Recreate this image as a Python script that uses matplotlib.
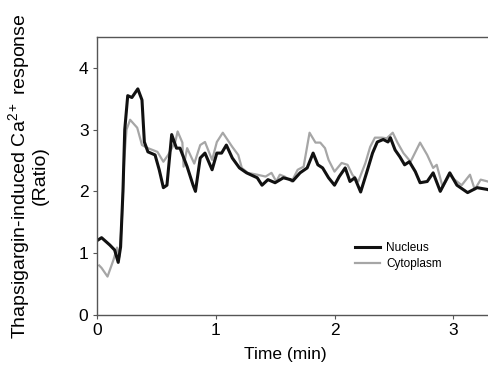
import numpy as np
import matplotlib.pyplot as plt

plt.rcParams['font.family'] = ['Liberation Sans', 'DejaVu Sans']
plt.rcParams['mathtext.fontset'] = 'custom'
plt.rcParams['mathtext.rm'] = 'Liberation Sans'
plt.rcParams['mathtext.it'] = 'Liberation Sans'

# Nucleus trace (time in min, ratio)
nuc_t = [0.0, 0.04, 0.11, 0.15, 0.18, 0.2, 0.22, 0.235, 0.26, 0.295, 0.345, 0.38,
         0.40, 0.43, 0.49, 0.525, 0.56, 0.59, 0.63, 0.67, 0.70, 0.76, 0.81, 0.83,
         0.87, 0.91, 0.97, 1.01, 1.05, 1.09, 1.14, 1.2, 1.26, 1.35, 1.39, 1.44,
         1.5, 1.57, 1.63, 1.65, 1.71, 1.77, 1.82, 1.86, 1.9, 1.95, 2.0, 2.04,
         2.09, 2.13, 2.17, 2.22, 2.27, 2.32, 2.36, 2.41, 2.45, 2.47, 2.51, 2.55,
         2.59, 2.63, 2.68, 2.72, 2.78, 2.83, 2.89, 2.97, 3.03, 3.12, 3.2, 3.29, 3.3]
nuc_r = [1.2, 1.25, 1.13, 1.05, 0.85, 1.1, 2.0, 3.0, 3.55, 3.52, 3.66, 3.48,
         2.8, 2.64, 2.59, 2.35, 2.06, 2.1, 2.92, 2.7, 2.7, 2.4, 2.1, 2.0,
         2.54, 2.62, 2.35, 2.62, 2.62, 2.75, 2.54, 2.38, 2.3, 2.22, 2.1, 2.19,
         2.14, 2.22, 2.19, 2.17, 2.3, 2.38, 2.62, 2.43, 2.38, 2.22, 2.1, 2.24,
         2.38, 2.16, 2.22, 1.99, 2.3, 2.62, 2.8, 2.84, 2.8, 2.87, 2.67, 2.56,
         2.43, 2.48, 2.32, 2.14, 2.16, 2.3, 2.0, 2.3, 2.1, 1.98, 2.06, 2.03, 2.02]

# Cytoplasm trace
cyt_t = [0.02, 0.04, 0.09, 0.14, 0.17, 0.19, 0.21, 0.23, 0.25, 0.28, 0.34, 0.38,
         0.43, 0.51, 0.56, 0.60, 0.66, 0.68, 0.72, 0.73, 0.76, 0.82, 0.87, 0.91,
         0.97, 1.01, 1.06, 1.14, 1.19, 1.22, 1.27, 1.35, 1.42, 1.47, 1.51, 1.54,
         1.58, 1.64, 1.69, 1.74, 1.79, 1.84, 1.88, 1.92, 1.95, 2.0, 2.06, 2.11,
         2.15, 2.2, 2.26, 2.3, 2.34, 2.4, 2.44, 2.49, 2.53, 2.58, 2.64, 2.72,
         2.78, 2.83, 2.86, 2.91, 2.97, 3.01, 3.07, 3.14, 3.18, 3.23, 3.29, 3.3]
cyt_r = [0.8, 0.76, 0.62, 0.89, 1.09, 0.94, 1.5, 2.5, 3.0, 3.16, 3.03, 2.75,
         2.7, 2.64, 2.48, 2.59, 2.8, 2.97, 2.79, 2.4, 2.7, 2.45, 2.75, 2.8,
         2.51, 2.8, 2.95, 2.72, 2.59, 2.38, 2.3, 2.27, 2.24, 2.3, 2.16, 2.27,
         2.24, 2.16, 2.35, 2.4, 2.95, 2.79, 2.79, 2.7, 2.51, 2.32, 2.46, 2.43,
         2.27, 2.16, 2.46, 2.72, 2.87, 2.87, 2.86, 2.95, 2.79, 2.62, 2.48, 2.79,
         2.59, 2.38, 2.43, 2.07, 2.27, 2.19, 2.1, 2.27, 2.03, 2.19, 2.16, 2.15]

fig = plt.figure(figsize=(4.89, 3.70), dpi=100)
ax = fig.add_axes([0.198, 0.149, 0.802, 0.751])

ax.plot(cyt_t, cyt_r, color='#a6a6a6', lw=1.6, label='Cytoplasm', solid_joinstyle='round')
ax.plot(nuc_t, nuc_r, color='#111111', lw=2.2, label='Nucleus', solid_joinstyle='round')

ax.set_xlim(0, 3.3)
ax.set_ylim(0, 4.5)
ax.set_xticks([0, 1, 2, 3])
ax.set_yticks([0, 1, 2, 3, 4])
ax.tick_params(labelsize=12.5, length=3, color='#555555', pad=3)
for s in ['left', 'bottom', 'top']:
    ax.spines[s].set_color('#555555')
    ax.spines[s].set_linewidth(1.0)
ax.spines['right'].set_visible(False)

ax.set_xlabel('Time (min)', fontsize=12.5)
ax.xaxis.set_label_coords(0.48, -0.115)
ax.set_ylabel('Thapsigargin-induced Ca$^{2+}$ response\n(Ratio)', fontsize=14,
              linespacing=1.02)
ax.yaxis.set_label_coords(-0.122, 0.5)

h, l = ax.get_legend_handles_labels()
ax.legend(h[::-1], l[::-1], loc='upper left', bbox_to_anchor=(0.63, 0.3), frameon=False,
          fontsize=8.5, handlelength=2.2, handletextpad=0.5, labelspacing=0.35)

fig.savefig('out.png', dpi=100)
